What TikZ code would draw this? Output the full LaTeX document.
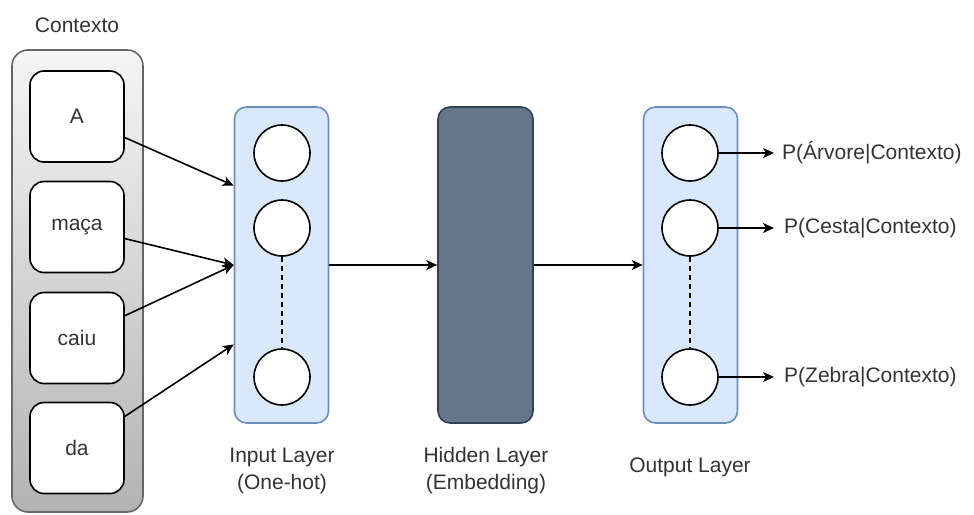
\documentclass[tikz,border=0pt]{standalone}
\usepackage{fontspec}
\setmainfont{Liberation Sans}
\usetikzlibrary{arrows.meta,calc}
\definecolor{txt}{HTML}{333333}
\definecolor{ctxtop}{HTML}{F5F5F5}
\definecolor{ctxbot}{HTML}{B3B3B3}
\definecolor{ctxline}{HTML}{666666}
\definecolor{layerfill}{HTML}{DAE8FC}
\definecolor{layerline}{HTML}{6C8EBF}
\definecolor{hidfill}{HTML}{647687}
\definecolor{hidline}{HTML}{314354}
\tikzset{
  lbl/.style={text=txt, font=\fontsize{21}{27}\selectfont, align=center, inner sep=0pt},
  ctxbox/.style={draw=ctxline, line width=1.6pt, rounded corners=16pt,
    top color=ctxtop, bottom color=ctxbot, minimum width=131pt, minimum height=462pt},
  word/.style={draw=black, line width=1.6pt, fill=white, rounded corners=14pt,
    minimum width=94pt, minimum height=91pt, lbl},
  layer/.style={draw=layerline, line width=1.6pt, fill=layerfill, rounded corners=12pt,
    minimum width=94pt, minimum height=316pt},
  hidden/.style={draw=hidline, line width=1.6pt, fill=hidfill, rounded corners=12pt,
    minimum width=95pt, minimum height=316pt},
  neuron/.style={circle, draw=black, line width=1.6pt, fill=white, minimum size=56pt, inner sep=0pt},
  conn/.style={draw=black, line width=1.6pt, -{Stealth[length=11pt,width=10pt,inset=3pt]}},
  dots/.style={draw=black, line width=1.4pt, dash pattern=on 5pt off 4pt}
}
\begin{document}
\begin{tikzpicture}[x=1pt,y=-1pt]
\useasboundingbox[fill=white] (0,0) rectangle (974,514);

% context column with the four words
\node[lbl] (ctxlabel) at (77,25) {Contexto};
\node[ctxbox] (ctx) at (77.5,281) {};
\node[word] (wA) at (77,116.5) {A};
\node[word] (wB) at (77,227) {maça};
\node[word] (wC) at (77,338) {caiu};
\node[word] (wD) at (77,448) {da};

% the three layers
\node[layer] (inl) at (281.5,265) {};
\node[hidden] (hid) at (485.5,265) {};
\node[layer] (outl) at (690.5,265) {};

% neurons of the input layer
\node[neuron] (i1) at (282,153) {};
\node[neuron] (i2) at (282,228) {};
\node[neuron] (i3) at (282,377) {};
\draw[dots] (i2.south) -- (i3.north);

% neurons of the output layer
\node[neuron] (o1) at (690,153) {};
\node[neuron] (o2) at (690,228) {};
\node[neuron] (o3) at (690,377) {};
\draw[dots] (o2.south) -- (o3.north);

% layer captions
\node[lbl] (capin) at (282,471) {Input Layer\\(One-hot)};
\node[lbl] (caphid) at (486,471) {Hidden Layer\\(Embedding)};
\node[lbl] (capout) at (690,467) {Output Layer};

% entry points on the input layer
\coordinate (e1) at ($(inl.north west)!0.25!(inl.south west)$);
\coordinate (e2) at (inl.west);
\coordinate (e3) at ($(inl.north west)!0.75!(inl.south west)$);

\draw[conn] (wA) -- (e1);
\draw[conn] (wB) -- (e2);
\draw[conn] (wC) -- (e2);
\draw[conn] (wD) -- (e3);

\draw[conn] (inl.east) -- (hid.west);
\draw[conn] (hid.east) -- (outl.west);

% output probabilities
\node[lbl, anchor=west] (p1) at (782,153) {P(Árvore|Contexto)};
\node[lbl, anchor=west] (p2) at (784,228) {P(Cesta|Contexto)};
\node[lbl, anchor=west] (p3) at (784,377) {P(Zebra|Contexto)};
\coordinate (t1) at (774,153);
\coordinate (t2) at (774,228);
\coordinate (t3) at (774,377);
\draw[conn] (o1.east) -- (t1);
\draw[conn] (o2.east) -- (t2);
\draw[conn] (o3.east) -- (t3);
\end{tikzpicture}
\end{document}
